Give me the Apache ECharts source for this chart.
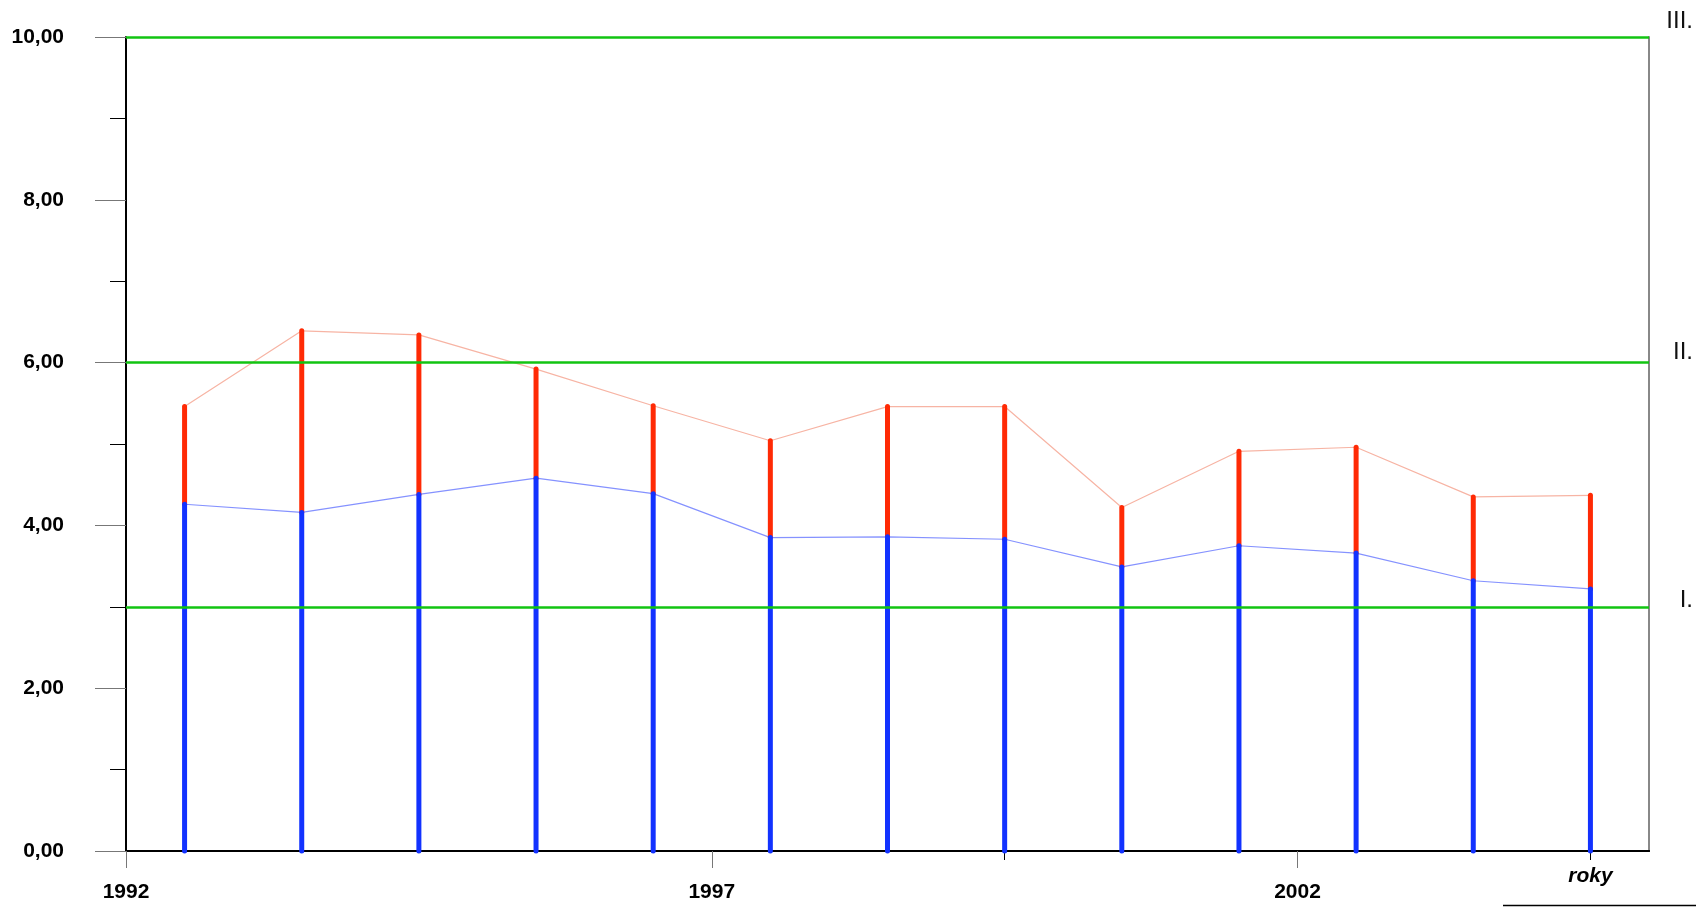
<!DOCTYPE html>
<html>
<head>
<meta charset="utf-8">
<script src="https://cdn.jsdelivr.net/npm/echarts@6/dist/echarts.min.js"></script>
<style>
    html, body { margin: 0; padding: 0; background: #fff; }
    #chart { width: 1696px; height: 907px; }
</style>
</head>
<body>
<div id="chart"></div>
<script>
// polohy sloupců (střed roku)
const years = [1992.5, 1993.5, 1994.5, 1995.5, 1996.5, 1997.5, 1998.5, 1999.5, 2000.5, 2001.5, 2002.5, 2003.5, 2004.5]
// spodní (modrá) a horní (červená) hodnota
const lowerValues = [4.26, 4.16, 4.38, 4.58, 4.39, 3.85, 3.86, 3.83, 3.49, 3.75, 3.66, 3.32, 3.22]
const upperValues = [5.46, 6.39, 6.34, 5.92, 5.47, 5.04, 5.46, 5.46, 4.22, 4.91, 4.96, 4.35, 4.37]
// hranice tříd
const limits = [3, 6, 10]
const limitNames = ['I.', 'II.', 'III.']
const yearLabels = [1992, 1997, 2002]

const font = '"Liberation Sans", Arial, sans-serif'

let chart = echarts.init(document.getElementById('chart'))
chart.setOption({
    animation: false,
    grid: { left: 126, right: 47, top: 37, bottom: 56 },
    xAxis: [
        {
            type: 'value',
            min: 1992,
            max: 2005,
            axisLine: { show: true, onZero: false, lineStyle: { color: '#000', width: 2 } },
            axisTick: { show: true, customValues: yearLabels, length: 17, lineStyle: { color: '#777', width: 1 } },
            axisLabel: {
                customValues: yearLabels,
                formatter: v => String(v),
                margin: 31,
                color: '#000',
                fontFamily: font,
                fontWeight: 'bold',
                fontSize: 21
            },
            splitLine: { show: false }
        },
        {
            type: 'value',
            min: 1992,
            max: 2005,
            position: 'bottom',
            axisLine: { show: false },
            axisTick: { show: true, customValues: [1999.5, 2004.5], length: 9, lineStyle: { color: '#000', width: 1 } },
            axisLabel: {
                customValues: [2004.5],
                formatter: () => 'roky',
                margin: 15,
                color: '#000',
                fontFamily: font,
                fontWeight: 'bold',
                fontStyle: 'italic',
                fontSize: 21
            },
            splitLine: { show: false }
        },
        {
            type: 'value',
            min: 1992,
            max: 2005,
            position: 'top',
            axisLine: { show: true, lineStyle: { color: '#000', width: 2 } },
            axisTick: { show: false },
            axisLabel: { show: false },
            splitLine: { show: false }
        }
    ],
    yAxis: [
        {
            type: 'value',
            min: 0,
            max: 10,
            interval: 2,
            axisLine: { show: true, lineStyle: { color: '#000', width: 2 } },
            axisTick: { show: true, length: 31, lineStyle: { color: '#777', width: 1 } },
            minorTick: { show: true, splitNumber: 2, length: 16, lineStyle: { color: '#000', width: 1 } },
            axisLabel: {
                margin: 62,
                color: '#000',
                fontFamily: font,
                fontWeight: 'bold',
                fontSize: 21,
                formatter: v => v.toFixed(2).replace('.', ',')
            },
            splitLine: { show: false }
        },
        {
            type: 'value',
            min: 0,
            max: 10,
            position: 'right',
            axisLine: { show: true, lineStyle: { color: '#888', width: 2 } },
            axisTick: { show: false },
            axisLabel: { show: false },
            splitLine: { show: false }
        }
    ],
    series: [
        {
            type: 'line',
            data: years.map((y, i) => [y, upperValues[i]]),
            showSymbol: false,
            lineStyle: { color: '#f7b4a4', width: 1.2 },
            z: 2,
            markLine: {
                silent: true,
                symbol: 'none',
                lineStyle: { color: '#12c412', width: 2.5, type: 'solid' },
                label: {
                    position: 'end',
                    color: '#111',
                    fontFamily: font,
                    fontSize: 24
                },
                data: limits.map((v, i) => ({
                    yAxis: v,
                    label: {
                        formatter: limitNames[i],
                        align: 'right',
                        distance: 44,
                        offset: [0, [-6, -10, -16][i]]
                    }
                }))
            }
        },
        {
            type: 'line',
            data: years.map((y, i) => [y, lowerValues[i]]),
            showSymbol: false,
            lineStyle: { color: '#8592ff', width: 1.2 },
            z: 2
        },
        {
            type: 'custom',
            z: 3,
            data: years.map((y, i) => [y, lowerValues[i], upperValues[i]]),
            renderItem: (params, api) => {
                let p0 = api.coord([api.value(0), 0])
                let p1 = api.coord([api.value(0), api.value(1)])
                let p2 = api.coord([api.value(0), api.value(2)])
                return {
                    type: 'group',
                    children: [
                        {
                            type: 'line',
                            shape: { x1: p1[0], y1: p1[1], x2: p2[0], y2: p2[1] },
                            style: { stroke: '#ff2a05', lineWidth: 5, lineCap: 'round' }
                        },
                        {
                            type: 'line',
                            shape: { x1: p0[0], y1: p0[1], x2: p1[0], y2: p1[1] },
                            style: { stroke: '#1232ff', lineWidth: 5, lineCap: 'round' }
                        }
                    ]
                }
            }
        }
    ],
    graphic: [
        {
            type: 'line',
            shape: { x1: 1503, y1: 905.5, x2: 1696, y2: 905.5 },
            style: { stroke: '#000', lineWidth: 1.5 }
        }
    ]
})
</script>
</body>
</html>
